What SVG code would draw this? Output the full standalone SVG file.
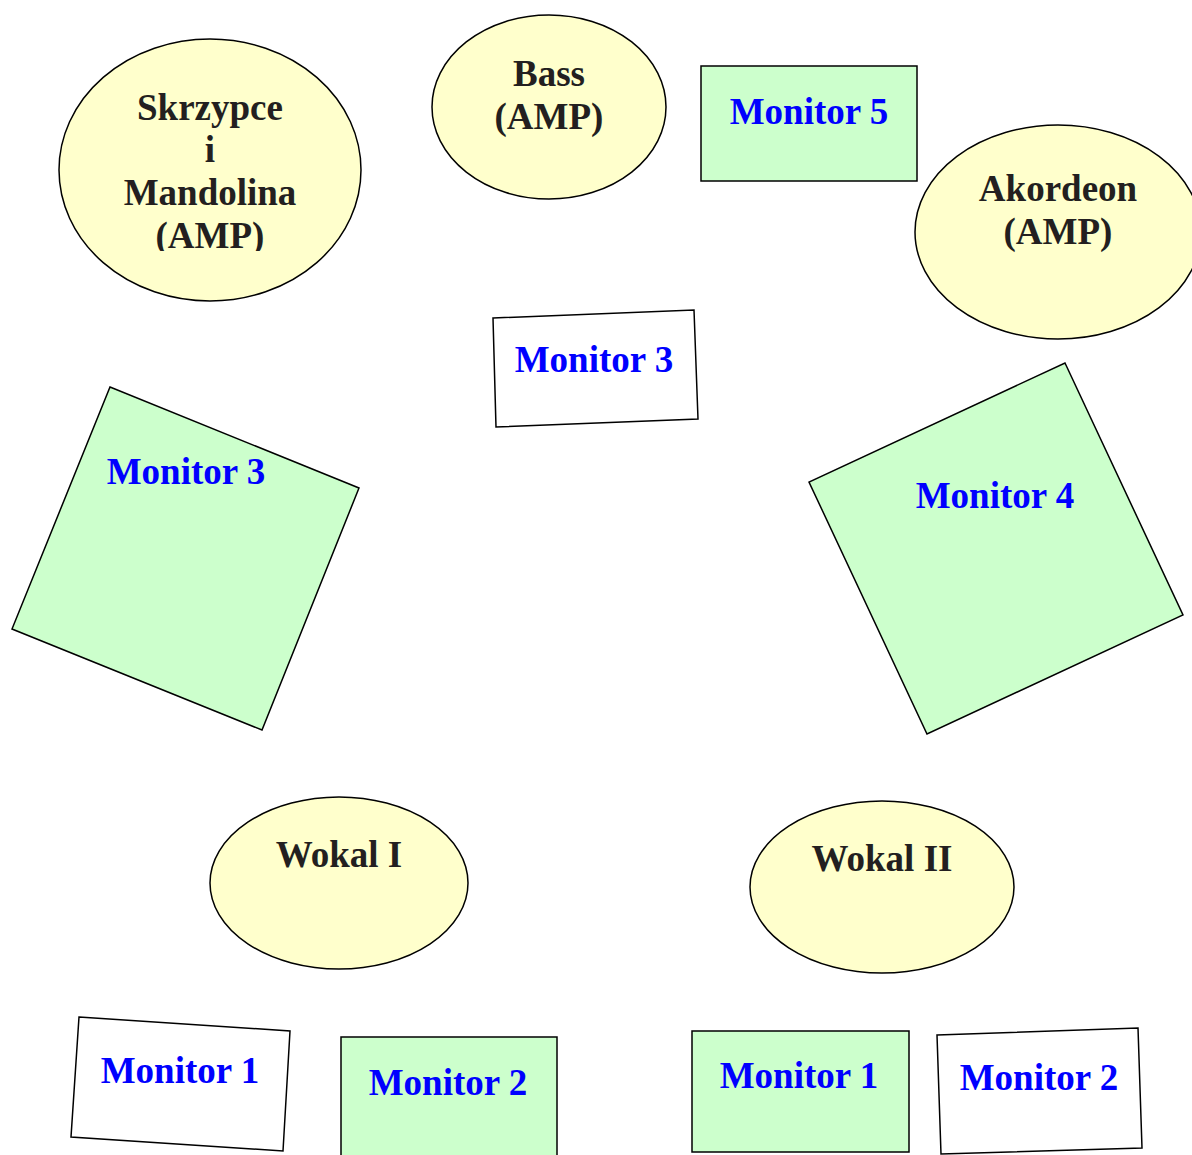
<svg xmlns="http://www.w3.org/2000/svg" width="1192" height="1155" viewBox="0 0 1192 1155">
<style>
.amp{fill:#FFFFCC;stroke:#000;stroke-width:1.5}
.mon{fill:#CCFFCC;stroke:#000;stroke-width:1.5}
.monw{fill:#FFFFFF;stroke:#000;stroke-width:1.5}
.t{font-family:"Liberation Serif","Times New Roman",serif;font-weight:bold;font-size:37px;text-anchor:middle}
.dk{fill:#231F20}
.bl{fill:#0000FF}
</style>
<defs>
<clipPath id="clipSk"><rect x="0" y="0" width="1192" height="251"/></clipPath>
</defs>
<rect width="1192" height="1155" fill="#FFFFFF"/>
<g id="skrzypce">
<ellipse class="amp" cx="210" cy="170" rx="151" ry="131"/>
<g clip-path="url(#clipSk)">
<text class="t dk" x="210" y="120">Skrzypce</text>
<text class="t dk" x="210" y="162">i</text>
<text class="t dk" x="210" y="205">Mandolina</text>
<text class="t dk" x="210" y="248">(AMP)</text>
</g>
</g>
<g id="bass">
<ellipse class="amp" cx="549" cy="107" rx="117" ry="92"/>
<text class="t dk" x="549" y="86">Bass</text>
<text class="t dk" x="549" y="129">(AMP)</text>
</g>
<g id="monitor5">
<rect class="mon" x="701" y="66" width="216" height="115"/>
<text class="t bl" x="809" y="124">Monitor 5</text>
</g>
<g id="akordeon">
<ellipse class="amp" cx="1058" cy="232" rx="143" ry="107"/>
<text class="t dk" x="1058" y="201">Akordeon</text>
<text class="t dk" x="1058" y="244">(AMP)</text>
</g>
<g id="monitor3top">
<polygon class="monw" points="493,318 694,310 698,419 496,427"/>
<text class="t bl" x="594" y="372">Monitor 3</text>
</g>
<g id="monitor3left">
<polygon class="mon" points="110,387 359,488 262,730 12,629"/>
<text class="t bl" x="186" y="484">Monitor 3</text>
</g>
<g id="monitor4">
<polygon class="mon" points="1065,363 1183,615 927,734 809,482"/>
<text class="t bl" x="995" y="508">Monitor 4</text>
</g>
<g id="wokal1">
<ellipse class="amp" cx="339" cy="883" rx="129" ry="86"/>
<text class="t dk" x="339" y="867">Wokal I</text>
</g>
<g id="wokal2">
<ellipse class="amp" cx="882" cy="887" rx="132" ry="86"/>
<text class="t dk" x="882" y="871">Wokal II</text>
</g>
<g id="monitor1left">
<polygon class="monw" points="79,1017 290,1031 283,1151 71,1137"/>
<text class="t bl" x="180" y="1083">Monitor 1</text>
</g>
<g id="monitor2left">
<rect class="mon" x="341" y="1037" width="216" height="130"/>
<text class="t bl" x="448" y="1095">Monitor 2</text>
</g>
<g id="monitor1right">
<rect class="mon" x="692" y="1031" width="217" height="121"/>
<text class="t bl" x="799" y="1088">Monitor 1</text>
</g>
<g id="monitor2right">
<polygon class="monw" points="937,1035 1138,1028 1142,1148 941,1154"/>
<text class="t bl" x="1039" y="1090">Monitor 2</text>
</g>
<g id="connectors"/>
</svg>
